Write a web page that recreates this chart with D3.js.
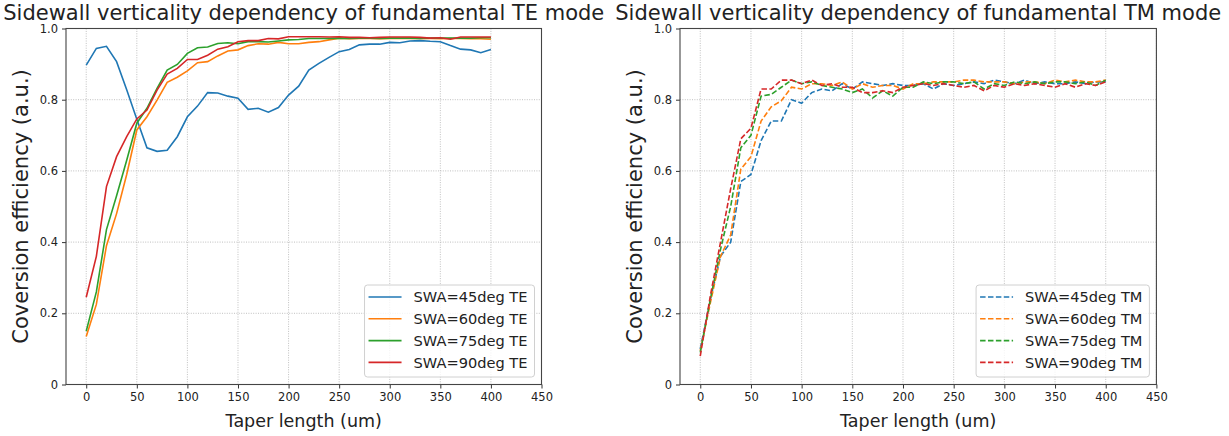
<!DOCTYPE html>
<html>
<head>
<meta charset="utf-8">
<script src="https://cdn.jsdelivr.net/npm/d3@7"></script>
<style>
  body { margin: 0; background: #fff; }
  svg { font-family: "DejaVu Sans", sans-serif; }
</style>
</head>
<body>
<div id="chart"></div>
<script>
// taper lengths (um)
const taperLength = [0, 10, 20, 30, 40, 50, 60, 70, 80, 90, 100, 110, 120, 130, 140, 150, 160, 170, 180, 190, 200,
  210, 220, 230, 240, 250, 260, 270, 280, 290, 300, 310, 320, 330, 340, 350, 360, 370, 380, 390, 400];

// TE mode
const te45 = [0.897, 0.944, 0.950, 0.907, 0.828, 0.745, 0.665, 0.655, 0.658, 0.696, 0.752, 0.782, 0.820, 0.819, 0.810, 0.804,
  0.773, 0.776, 0.765, 0.778, 0.813, 0.838, 0.883, 0.902, 0.919, 0.935, 0.941, 0.954, 0.956, 0.956, 0.961, 0.960, 0.965,
  0.966, 0.964, 0.963, 0.952, 0.942, 0.940, 0.932, 0.941];
const te60 = [0.135, 0.225, 0.39, 0.48, 0.59, 0.715, 0.752, 0.799, 0.849, 0.863, 0.881, 0.904, 0.907, 0.923, 0.937, 0.940,
  0.952, 0.957, 0.956, 0.961, 0.957, 0.957, 0.961, 0.963, 0.968, 0.973, 0.971, 0.972, 0.972, 0.971, 0.972, 0.972, 0.973,
  0.972, 0.972, 0.971, 0.972, 0.972, 0.971, 0.971, 0.970];
const te75 = [0.15, 0.26, 0.435, 0.53, 0.63, 0.734, 0.776, 0.832, 0.883, 0.899, 0.930, 0.946, 0.948, 0.958, 0.960, 0.957,
  0.963, 0.963, 0.962, 0.965, 0.968, 0.969, 0.972, 0.972, 0.972, 0.973, 0.972, 0.973, 0.973, 0.972, 0.973, 0.973, 0.973,
  0.972, 0.973, 0.973, 0.973, 0.973, 0.973, 0.974, 0.974];
const te90 = [0.245, 0.36, 0.556, 0.64, 0.696, 0.746, 0.771, 0.827, 0.872, 0.888, 0.913, 0.913, 0.925, 0.942, 0.949, 0.963,
  0.966, 0.966, 0.972, 0.971, 0.977, 0.977, 0.977, 0.977, 0.976, 0.977, 0.975, 0.975, 0.974, 0.975, 0.976, 0.976, 0.976,
  0.975, 0.973, 0.974, 0.970, 0.976, 0.976, 0.976, 0.976];

// TM mode
const tm45 = [0.10, 0.24, 0.36, 0.40, 0.57, 0.59, 0.685, 0.74, 0.74, 0.80, 0.79, 0.82, 0.83, 0.825, 0.845, 0.83,
  0.85, 0.845, 0.84, 0.845, 0.84, 0.84, 0.845, 0.83, 0.845, 0.84, 0.845, 0.85, 0.845, 0.855, 0.85, 0.845, 0.855,
  0.845, 0.85, 0.845, 0.845, 0.85, 0.845, 0.85, 0.85];
const tm60 = [0.095, 0.23, 0.36, 0.42, 0.605, 0.64, 0.74, 0.78, 0.797, 0.835, 0.83, 0.845, 0.845, 0.84, 0.85, 0.83,
  0.845, 0.835, 0.84, 0.84, 0.83, 0.845, 0.845, 0.85, 0.85, 0.85, 0.855, 0.855, 0.85, 0.85, 0.85, 0.845, 0.85,
  0.85, 0.845, 0.855, 0.85, 0.855, 0.85, 0.85, 0.855];
const tm75 = [0.09, 0.24, 0.38, 0.50, 0.665, 0.70, 0.81, 0.815, 0.835, 0.855, 0.845, 0.85, 0.84, 0.835, 0.83, 0.82,
  0.83, 0.805, 0.825, 0.81, 0.835, 0.835, 0.85, 0.845, 0.85, 0.85, 0.845, 0.85, 0.83, 0.845, 0.84, 0.85, 0.845,
  0.85, 0.845, 0.85, 0.85, 0.845, 0.85, 0.84, 0.855];
const tm90 = [0.08, 0.25, 0.40, 0.55, 0.69, 0.72, 0.83, 0.83, 0.855, 0.855, 0.845, 0.855, 0.84, 0.845, 0.835, 0.835,
  0.82, 0.82, 0.825, 0.82, 0.835, 0.84, 0.845, 0.84, 0.845, 0.84, 0.835, 0.84, 0.825, 0.84, 0.835, 0.845, 0.84,
  0.845, 0.84, 0.835, 0.845, 0.835, 0.845, 0.84, 0.85];

const teLabels = ["SWA=45deg TE", "SWA=60deg TE", "SWA=75deg TE", "SWA=90deg TE"];
const tmLabels = ["SWA=45deg TM", "SWA=60deg TM", "SWA=75deg TM", "SWA=90deg TM"];
const colors = ["#1f77b4", "#ff7f0e", "#2ca02c", "#d62728"];

const xTicks = [0, 50, 100, 150, 200, 250, 300, 350, 400, 450];
const yTicks = [0, 0.2, 0.4, 0.6, 0.8, 1.0];

const width = 1229, height = 436;
const plotTop = 28.5, plotBottom = 384.5;

const svg = d3.select("#chart").append("svg")
  .attr("width", width)
  .attr("height", height);

function panel(left, right, title, series, labels, dashed) {
  const g = svg.append("g");
  const x = d3.scaleLinear().domain([-20, 450]).range([left, right]);
  const y = d3.scaleLinear().domain([0, 1]).range([plotBottom, plotTop]);

  // grid
  g.append("g").selectAll("line").data(xTicks).enter().append("line")
    .attr("x1", d => x(d)).attr("x2", d => x(d))
    .attr("y1", plotTop).attr("y2", plotBottom)
    .attr("stroke", "#b0b0b0").attr("stroke-width", 0.8).attr("stroke-dasharray", "1,1.4");
  g.append("g").selectAll("line").data(yTicks).enter().append("line")
    .attr("x1", left).attr("x2", right)
    .attr("y1", d => y(d)).attr("y2", d => y(d))
    .attr("stroke", "#b0b0b0").attr("stroke-width", 0.8).attr("stroke-dasharray", "1,1.4");

  // lines
  const line = d3.line()
    .x((d, i) => x(taperLength[i]))
    .y(d => y(d));
  series.forEach((s, k) => {
    g.append("path")
      .datum(s)
      .attr("fill", "none")
      .attr("stroke", colors[k])
      .attr("stroke-width", 1.6)
      .attr("stroke-dasharray", dashed ? "5.5,2.4" : null)
      .attr("d", line);
  });

  // axes
  const xAxis = g.append("g")
    .attr("transform", `translate(0,${plotBottom})`)
    .call(d3.axisBottom(x).tickValues(xTicks).tickSize(4).tickPadding(4).tickFormat(d3.format("d")));
  const yAxis = g.append("g")
    .attr("transform", `translate(${left},0)`)
    .call(d3.axisLeft(y).tickValues(yTicks).tickSize(4).tickPadding(4)
      .tickFormat(d => d === 0 ? "0" : d.toFixed(1)));
  [xAxis, yAxis].forEach(a => {
    a.select(".domain").remove();
    a.selectAll("text").attr("font-size", 11.5).attr("fill", "#222").attr("font-family", "DejaVu Sans");
    a.selectAll("line").attr("stroke", "#333");
  });

  // frame
  g.append("rect")
    .attr("x", left).attr("y", plotTop)
    .attr("width", right - left).attr("height", plotBottom - plotTop)
    .attr("fill", "none").attr("stroke", "#444").attr("stroke-width", 1.1);

  // legend
  const leg = g.append("g");
  const box = leg.append("rect")
    .attr("fill", "#fff").attr("fill-opacity", 0.8)
    .attr("stroke", "#d0d0d0").attr("rx", 3);
  let maxW = 0;
  labels.forEach((lab, k) => {
    const cy = 12 + k * 21.8;
    leg.append("line")
      .attr("x1", 4).attr("x2", 37).attr("y1", cy).attr("y2", cy)
      .attr("stroke", colors[k]).attr("stroke-width", 1.6)
      .attr("stroke-dasharray", dashed ? "5.5,2.4" : null);
    const t = leg.append("text")
      .attr("x", 49).attr("y", cy).attr("dy", "0.35em")
      .attr("font-size", 14.6).attr("fill", "#222")
      .text(lab);
    maxW = Math.max(maxW, t.node().getComputedTextLength());
  });
  const bw = 49 + maxW + 7, bh = 92;
  box.attr("width", bw).attr("height", bh);
  leg.attr("transform", `translate(${right - 7 - bw},${plotBottom - 7.5 - bh})`);

  // labels
  svg.append("text")
    .attr("x", (left + right) / 2).attr("y", 19.5)
    .attr("text-anchor", "middle").attr("font-size", 21).attr("fill", "#222")
    .text(title);
  svg.append("text")
    .attr("x", (left + right) / 2).attr("y", 427)
    .attr("text-anchor", "middle").attr("font-size", 17.5).attr("fill", "#222")
    .text("Taper length (um)");
  svg.append("text")
    .attr("transform", `translate(${left - 38},${(plotTop + plotBottom) / 2}) rotate(-90)`)
    .attr("text-anchor", "middle").attr("font-size", 21).attr("fill", "#222")
    .text("Coversion efficiency (a.u.)");
}

panel(66, 541.5, "Sidewall verticality dependency of fundamental TE mode", [te45, te60, te75, te90], teLabels, false);
panel(680, 1156.4, "Sidewall verticality dependency of fundamental TM mode", [tm45, tm60, tm75, tm90], tmLabels, true);
</script>
</body>
</html>
